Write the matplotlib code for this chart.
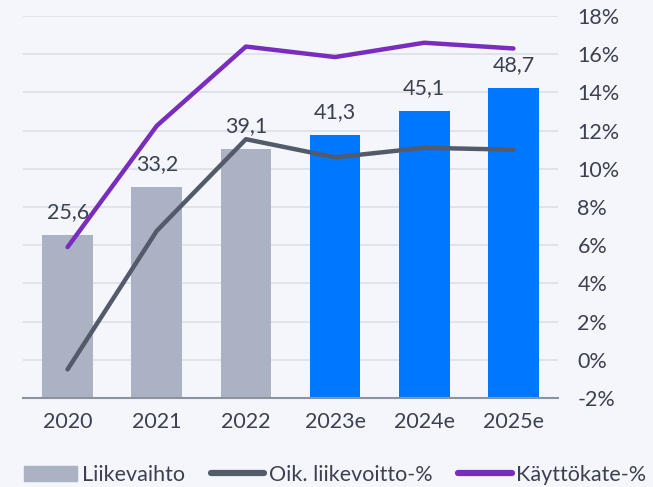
import numpy as np
import matplotlib
matplotlib.use("Agg")
import matplotlib.pyplot as plt

plt.rcParams['font.family'] = ['Lato', 'DejaVu Sans']

years = ['2020', '2021', '2022', '2023e', '2024e', '2025e']
liikevaihto = [25.6, 33.2, 39.1, 41.3, 45.1, 48.7]
oik_liikevoitto_pct = [-0.5, 6.75, 11.55, 10.6, 11.1, 11.0]
kayttokate_pct = [5.9, 12.25, 16.4, 15.85, 16.6, 16.3]
is_estimate = [False, False, False, True, True, True]

BG = '#F5F6FB'
TEXT = '#3B4150'
GRAY_BAR = '#ABB2C3'
BLUE_BAR = '#0077FF'
GRAY_LINE = '#535B6B'
PURPLE = '#7A2CBF'
GRID = '#DDE0E7'

fig = plt.figure(figsize=(6.53, 4.87), dpi=100, facecolor=BG)
ax = fig.add_axes([23 / 653, 1 - 398 / 487, 535 / 653, 382 / 487])
ax.set_facecolor(BG)
ax.set_axisbelow(True)
x = np.arange(len(years))

# revenue bars on the hidden left scale
colors = [BLUE_BAR if e else GRAY_BAR for e in is_estimate]
bars = ax.bar(x, liikevaihto, width=0.57, color=colors, zorder=2)
ax.set_ylim(0, 60)
ax.set_xlim(-0.5, len(years) - 0.5)
ax.set_xticks(x)
ax.set_xticklabels(years)
for s in ['top', 'right', 'left']:
    ax.spines[s].set_visible(False)
ax.spines['bottom'].set_color('#8C93A0')
ax.spines['bottom'].set_linewidth(1.5)
ax.spines['bottom'].set_zorder(3)

for b, v in zip(bars, liikevaihto):
    ax.annotate(f"{v:.1f}".replace('.', ','), (b.get_x() + b.get_width() / 2, v),
                xytext=(0, 9), textcoords='offset points', ha='center', va='bottom',
                fontsize=15.5, color=TEXT)

# margin lines on the right percentage scale
ax2 = ax.twinx()
ax2.plot(x, oik_liikevoitto_pct, color=GRAY_LINE, lw=3.2, solid_capstyle='round',
         label='Oik. liikevoitto-%')
ax2.plot(x, kayttokate_pct, color=PURPLE, lw=3.2, solid_capstyle='round',
         label='Käyttökate-%')
ax2.set_ylim(-2, 18)
ax2.set_yticks(np.arange(-2, 19, 2))
ax2.set_yticklabels([f"{t}%" for t in range(-2, 19, 2)])
ax2.tick_params(axis='y', length=0, pad=14, labelsize=15.5, labelcolor=TEXT)
for s in ax2.spines.values():
    s.set_visible(False)

# grid lines live on the bar axes so they stay behind the bars
ax.set_yticks(np.linspace(0, 60, 11))
ax.yaxis.grid(True, color=GRID, lw=1.2)
ax.tick_params(axis='y', left=False, right=False, labelleft=False, labelright=False)
ax.tick_params(axis='x', length=0, pad=10, labelsize=15.5, labelcolor=TEXT)

handles = [bars] + ax2.get_lines()
labels = ['Liikevaihto', 'Oik. liikevoitto-%', 'Käyttökate-%']
leg = fig.legend(handles, labels, loc='center', bbox_to_anchor=(335 / 653, 1 - 475 / 487),
                 ncol=3, frameon=False, fontsize=15.5, handlelength=2.5, handleheight=0.7,
                 handletextpad=0.2, columnspacing=1.2, labelcolor=TEXT)
leg.legend_handles[0].set_color(GRAY_BAR)
for h in leg.legend_handles[1:]:
    h.set_linewidth(4.5)
    h.set_solid_capstyle('round')

fig.savefig('out.png', dpi=100, facecolor=BG)
